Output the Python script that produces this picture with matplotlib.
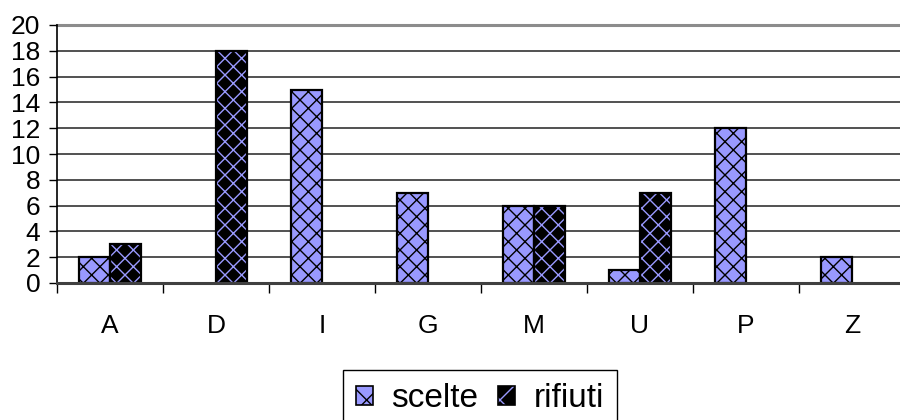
import numpy as np
import matplotlib
matplotlib.use("Agg")
import matplotlib.pyplot as plt
from matplotlib.patches import Patch

categories = ["A", "D", "I", "G", "M", "U", "P", "Z"]
scelte = [2, 0, 15, 7, 6, 1, 12, 2]
rifiuti = [3, 18, 0, 0, 6, 7, 0, 0]
series_names = ["scelte", "rifiuti"]
y_ticks = list(range(0, 21, 2))

LAV = "#9999FF"
plt.rcParams["font.family"] = ["Liberation Sans", "DejaVu Sans"]
plt.rcParams["hatch.linewidth"] = 1.0

fig = plt.figure(figsize=(9, 4.2), dpi=100)
ax = fig.add_axes([57 / 900, 137 / 420, 848 / 900, 258 / 420])

x = np.arange(len(categories))
w = 0.29
# (values, offset, face, pattern colour)
specs = [
    (np.array(scelte), -w / 2, LAV, "black"),
    (np.array(rifiuti), w / 2, "black", LAV),
]
for vals, off, face, hcol in specs:
    keep = vals > 0
    ax.bar(x[keep] + off, vals[keep], w, color=face, edgecolor=hcol,
           hatch="xx", linewidth=0, zorder=3)
    ax.bar(x[keep] + off, vals[keep], w, facecolor="none", edgecolor="black",
           linewidth=1.6, zorder=4)

ax.set_xlim(-0.5, len(categories) - 0.5)
ax.set_ylim(0, 20)
ax.set_yticks(y_ticks)
ax.set_yticklabels([str(v) for v in y_ticks], fontsize=19)
ax.set_xticks(x)
ax.set_xticklabels(categories, fontsize=19)
ax.set_xticks(np.arange(-0.5, len(categories)), minor=True)
ax.tick_params(axis="x", which="major", length=0, pad=22)
ax.tick_params(axis="x", which="minor", length=7, width=1, color="black", direction="out")
ax.tick_params(axis="y", length=6, width=1, color="black", pad=6)

for v in y_ticks[1:-1]:
    ax.axhline(v, color="#333333", linewidth=1.2, zorder=1)
ax.axhline(20, color="#8c8c8c", linewidth=2.2, zorder=1, clip_on=False)

for s in ("top", "right"):
    ax.spines[s].set_visible(False)
ax.spines["left"].set_color("black")
ax.spines["left"].set_linewidth(1.2)
ax.spines["bottom"].set_color("#404040")
ax.spines["bottom"].set_linewidth(2.2)
ax.spines["bottom"].set_zorder(5)

handles = [
    (Patch(facecolor=LAV, edgecolor="black", hatch="x", linewidth=0),
     Patch(facecolor="none", edgecolor="black", linewidth=1.2)),
    (Patch(facecolor="black", edgecolor=LAV, hatch="x", linewidth=0),
     Patch(facecolor="none", edgecolor="black", linewidth=1.2)),
]
fig.legend(handles, series_names, loc="upper center", ncol=2,
           bbox_to_anchor=(480 / 900, 50 / 420), fontsize=24, frameon=True,
           fancybox=False, edgecolor="black", framealpha=1,
           handlelength=0.5, handleheight=0.5, handletextpad=0.55,
           columnspacing=0.6, borderpad=0.4, borderaxespad=0)

fig.savefig("out.png", dpi=100)
